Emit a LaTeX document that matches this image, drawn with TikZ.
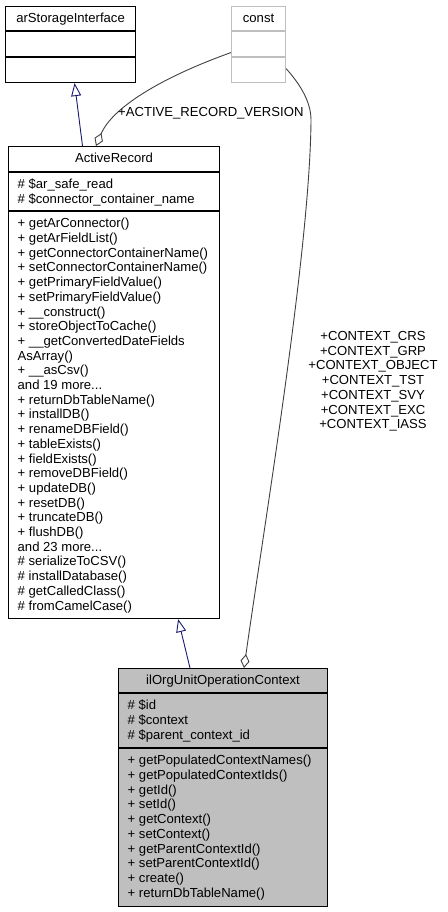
\documentclass[tikz,border=0pt]{standalone}
\usepackage{fontspec}
\setmainfont{Liberation Sans}
\usepackage{tikz}
\usetikzlibrary{arrows.meta, calc, positioning}
\definecolor{edgenavy}{rgb}{0.1, 0.1, 0.44}
\definecolor{edgegray}{rgb}{0.25, 0.25, 0.25}
\definecolor{boxgray}{rgb}{0.75, 0.75, 0.75}

\begin{document}
\begin{tikzpicture}[x=1pt, y=-1pt,
		every node/.style={font=\fontsize{13.1}{14.7}\selectfont, inner sep=0pt},
		classbox/.style={draw, line width=1.1pt, anchor=north west, inner sep=0pt},
		seprule/.style={line width=1.1pt},
		member/.style={anchor=base west, align=left},
		inherit/.style={edgenavy, line width=0.9pt, -{Triangle[open, length=13pt, width=10pt]}},
		aggreg/.style={edgegray, line width=0.9pt, -{Diamond[open, length=14pt, width=9pt]}}]
		\useasboundingbox (0,0) rectangle (447,912);
		% interface
		\node[classbox, minimum width=130pt, minimum height=76pt] (asi) at (5,6) {};
		\draw[seprule] ([yshift=-25pt]asi.north west) -- ([yshift=-25pt]asi.north east);
		\draw[seprule] ([yshift=-51pt]asi.north west) -- ([yshift=-51pt]asi.north east);
		\node[anchor=base] (asi-name) at ([yshift=-16.8pt]asi.north) {arStorageInterface};
		% const
		\node[classbox, draw=boxgray, minimum width=54pt, minimum height=76pt] (cst) at (231,6) {};
		\draw[seprule, boxgray] ([yshift=-25pt]cst.north west) -- ([yshift=-25pt]cst.north east);
		\draw[seprule, boxgray] ([yshift=-51pt]cst.north west) -- ([yshift=-51pt]cst.north east);
		\node[anchor=base] (cst-name) at ([yshift=-16.8pt]cst.north) {const};
		% ActiveRecord (member nodes sit on their last baseline)
		\node[classbox, minimum width=211pt, minimum height=472pt] (ar) at (8,146) {};
		\draw[seprule] ([yshift=-26pt]ar.north west) -- ([yshift=-26pt]ar.north east);
		\draw[seprule] ([yshift=-65pt]ar.north west) -- ([yshift=-65pt]ar.north east);
		\node[anchor=base] (ar-name) at ([yshift=-16.8pt]ar.north) {ActiveRecord};
		\node[member] (ar-attr) at ([xshift=9.5pt, yshift=-57.5pt]ar.north west) {\# \$ar\_safe\_read\\\# \$connector\_container\_name};
		\node[member] (ar-ops) at ([xshift=9.5pt, yshift=-464pt]ar.north west) {+ getArConnector()\\+ getArFieldList()\\+ getConnectorContainerName()\\+ setConnectorContainerName()\\+ getPrimaryFieldValue()\\+ setPrimaryFieldValue()\\+ \_\_construct()\\+ storeObjectToCache()\\+ \_\_getConvertedDateFields\\AsArray()\\+ \_\_asCsv()\\and 19 more...\\+ returnDbTableName()\\+ installDB()\\+ renameDBField()\\+ tableExists()\\+ fieldExists()\\+ removeDBField()\\+ updateDB()\\+ resetDB()\\+ truncateDB()\\+ flushDB()\\and 23 more...\\\# serializeToCSV()\\\# installDatabase()\\\# getCalledClass()\\\# fromCamelCase()};
		% context class
		\node[classbox, fill=boxgray, minimum width=209pt, minimum height=238pt] (ctx) at (118,668) {};
		\draw[seprule] ([yshift=-25pt]ctx.north west) -- ([yshift=-25pt]ctx.north east);
		\draw[seprule] ([yshift=-80pt]ctx.north west) -- ([yshift=-80pt]ctx.north east);
		\node[anchor=base] (ctx-name) at ([yshift=-16.8pt]ctx.north) {ilOrgUnitOperationContext};
		\node[member] (ctx-attr) at ([xshift=9.5pt, yshift=-71.2pt]ctx.north west) {\# \$id\\\# \$context\\\# \$parent\_context\_id};
		\node[member] (ctx-ops) at ([xshift=9.5pt, yshift=-229.1pt]ctx.north west) {+ getPopulatedContextNames()\\+ getPopulatedContextIds()\\+ getId()\\+ setId()\\+ getContext()\\+ setContext()\\+ getParentContextId()\\+ setParentContextId()\\+ create()\\+ returnDbTableName()};
		% edges
		\draw[inherit] ([xshift=74.5pt]ar.north west) -- ([xshift=4pt]asi.south);
		\draw[inherit] ([xshift=72pt]ctx.north west) -- ([xshift=-42pt]ar.south east);
		\draw[aggreg] ([yshift=-8pt]cst.west) .. controls (160,78) and (112,108) .. ([xshift=88pt]ar.north west);
		\coordinate (ctxbend) at (311,120);
		\draw[aggreg] ([yshift=-24pt]cst.east) .. controls (298,82) and (311,100) .. (ctxbend) .. controls (310,250) and (265,520) .. ([xshift=126pt]ctx.north west);
		\node[anchor=base west] (ver-lbl) at (118,117) {+ACTIVE\_RECORD\_VERSION};
		\node[anchor=base, align=center] (ctx-lbl) at (373,428.7) {+CONTEXT\_CRS\\+CONTEXT\_GRP\\+CONTEXT\_OBJECT\\+CONTEXT\_TST\\+CONTEXT\_SVY\\+CONTEXT\_EXC\\+CONTEXT\_IASS};
		%%\draw[red] (0,0) grid[step=50] (447,912);
\end{tikzpicture}
\end{document}
